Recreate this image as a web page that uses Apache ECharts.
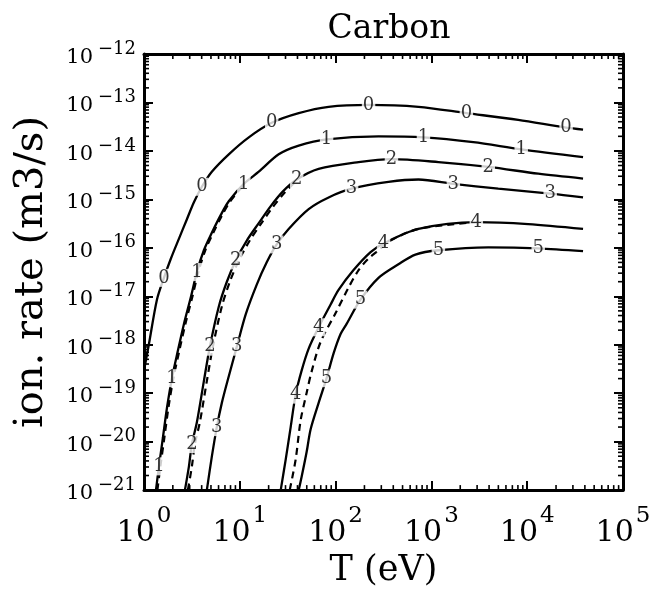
<!DOCTYPE html>
<html>
<head>
<meta charset="utf-8">
<title>Carbon ionization rates</title>
<script src="https://cdn.jsdelivr.net/npm/echarts@6/dist/echarts.min.js"></script>
<style>
  html, body { margin: 0; padding: 0; background: #fff; }
  #chart { width: 654px; height: 593px; }
</style>
</head>
<body>
<div id="chart"></div>
<script>
// Ionization rate coefficients for carbon charge states 0..5 vs electron temperature.
// Values are log10(T / eV) and log10(rate / (m3/s)).

const chargeStates = ['0', '1', '2', '3', '4', '5'];

const xDecades = [0, 1, 2, 3, 4, 5];
const yDecades = [-21, -20, -19, -18, -17, -16, -15, -14, -13, -12];

const lgT0 = [0, 0.052, 0.135, 0.208, 0.281, 0.365, 0.448, 0.521, 0.604, 0.708, 0.885, 1.094, 1.333, 1.615, 1.927, 2.344, 2.865, 3.365, 3.906, 4.406, 4.583];
const lgK0 = [-18.53, -17.98, -17.07, -16.62, -16.22, -15.81, -15.41, -15.06, -14.74, -14.43, -14.07, -13.72, -13.42, -13.22, -13.09, -13.05, -13.09, -13.22, -13.36, -13.52, -13.56];
const lab0 = [3, 8, 12, 15, 17, 19];

const lgT1 = [0.125, 0.156, 0.198, 0.24, 0.292, 0.354, 0.417, 0.49, 0.552, 0.625, 0.708, 0.802, 0.885, 1.042, 1.198, 1.406, 1.615, 1.906, 2.448, 2.917, 3.4375, 3.9375, 4.583];
const lgK1 = [-21.0, -20.51, -19.91, -19.30, -18.69, -18.12, -17.57, -17.01, -16.50, -16.05, -15.69, -15.32, -15.04, -14.68, -14.43, -14.07, -13.89, -13.76, -13.70, -13.72, -13.82, -13.97, -14.13];
const lab1 = [1, 4, 8, 13, 17, 19, 21];

const lgT2 = [0.427, 0.469, 0.5, 0.552, 0.625, 0.6875, 0.781, 0.865, 0.958, 1.073, 1.198, 1.323, 1.448, 1.594, 1.823, 2.24, 2.583, 3.073, 3.594, 4.115, 4.583];
const lgK2 = [-21.0, -20.51, -20.05, -19.60, -18.75, -18.04, -17.21, -16.70, -16.26, -15.85, -15.49, -15.14, -14.84, -14.59, -14.37, -14.23, -14.17, -14.23, -14.33, -14.47, -14.57];
const lab2 = [2, 5, 8, 13, 16, 18];

const lgT3 = [0.656, 0.708, 0.760, 0.8125, 0.885, 0.969, 1.0625, 1.177, 1.281, 1.385, 1.51, 1.719, 1.927, 2.167, 2.552, 2.865, 3.229, 3.698, 4.24, 4.583];
const lgK3 = [-21.0, -20.31, -19.70, -19.20, -18.65, -18.04, -17.37, -16.76, -16.30, -15.93, -15.61, -15.20, -14.96, -14.78, -14.64, -14.59, -14.68, -14.78, -14.88, -14.96];
const lab3 = [2, 5, 9, 13, 16, 18];

const lgT4 = [1.427, 1.479, 1.531, 1.583, 1.646, 1.719, 1.823, 1.948, 2.031, 2.1875, 2.365, 2.5, 2.865, 3.469, 4.01, 4.583];
const lgK4 = [-21.0, -20.37, -19.70, -19.03, -18.53, -18.08, -17.64, -17.17, -16.87, -16.46, -16.09, -15.91, -15.61, -15.47, -15.51, -15.61];
const lab4 = [3, 6, 11, 13];

const lgT5 = [1.615, 1.646, 1.698, 1.74, 1.823, 1.906, 1.979, 2.052, 2.115, 2.26, 2.448, 2.656, 2.833, 3.073, 3.594, 4.115, 4.583];
const lgK5 = [-21.0, -20.72, -20.21, -19.74, -19.20, -18.69, -18.18, -17.78, -17.57, -17.07, -16.62, -16.34, -16.14, -16.05, -15.99, -16.01, -16.07];
const lab5 = [5, 9, 13, 15];

// Dashed companion curves (alternative rate data) for states 1, 2 and 4
const lgT1d = [0.14, 0.171, 0.213, 0.255, 0.307, 0.369, 0.432, 0.505, 0.567, 0.64, 0.723, 0.817, 0.9, 1.05];
const lgK1d = [-21.0, -20.51, -19.91, -19.30, -18.69, -18.12, -17.57, -17.01, -16.50, -16.05, -15.69, -15.32, -15.04, -14.68];

const lgT2d = [0.458, 0.5, 0.531, 0.583, 0.656, 0.719, 0.8125, 0.896, 0.99, 1.104, 1.219, 1.344, 1.469, 1.594];
const lgK2d = [-21.0, -20.51, -20.05, -19.60, -18.75, -18.04, -17.21, -16.70, -16.26, -15.85, -15.51, -15.16, -14.86, -14.61];

const lgT4d = [1.521, 1.583, 1.635, 1.698, 1.75, 1.844, 2.01, 2.135, 2.24, 2.344, 2.448, 2.573, 2.865, 3.469];
const lgK4d = [-21.0, -20.37, -19.56, -18.99, -18.55, -17.94, -17.31, -16.82, -16.46, -16.22, -16.05, -15.85, -15.61, -15.47];

const minorFactors = [2, 3, 4, 5, 6, 7, 8, 9];

const SERIF = "'DejaVu Serif', 'Liberation Serif', serif";
const X_MIN = xDecades[0], X_MAX = xDecades[xDecades.length - 1];
const Y_MIN = yDecades[0], Y_MAX = yDecades[yDecades.length - 1];

function zip(a, b) { return a.map((v, i) => [v, b[i]]); }

const solid = [
  [lgT0, lgK0, lab0], [lgT1, lgK1, lab1], [lgT2, lgK2, lab2],
  [lgT3, lgK3, lab3], [lgT4, lgK4, lab4], [lgT5, lgK5, lab5]
];
const dashed = [[lgT1d, lgK1d], [lgT2d, lgK2d], [lgT4d, lgK4d]];

const series = [];

solid.forEach(([t, k], i) => {
  series.push({
    name: 'state ' + chargeStates[i],
    type: 'line', data: zip(t, k), smooth: 0.3, showSymbol: false,
    lineStyle: { color: '#000', width: 2.3 }, z: 3, silent: true
  });
});

dashed.forEach(([t, k]) => {
  series.push({
    type: 'line', data: zip(t, k), smooth: 0.3, showSymbol: false,
    lineStyle: { color: '#000', width: 2.2, type: [7, 5] }, z: 3, silent: true
  });
});

// Charge-state digits sitting on their curves
const labelData = [];
solid.forEach(([t, k, idx], i) => {
  idx.forEach(j => labelData.push({ value: [t[j], k[j]], name: chargeStates[i] }));
});
series.push({
  type: 'scatter', data: labelData, symbolSize: 0, z: 6, silent: true,
  label: {
    show: true, position: 'inside', formatter: p => p.name,
    fontFamily: SERIF, fontSize: 18, color: '#000',
    backgroundColor: '#fff', padding: [0, 1]
  }
});

// Logarithmic minor ticks on all four sides of the frame
const xMinor = [], yMinor = [];
for (let n = X_MIN; n < X_MAX; n++) minorFactors.forEach(f => xMinor.push([n + Math.log10(f), Y_MIN]));
for (let n = Y_MIN; n < Y_MAX; n++) minorFactors.forEach(f => yMinor.push([X_MIN, n + Math.log10(f)]));

const tickStyle = { stroke: '#000', lineWidth: 1.6 };
series.push({
  type: 'custom', data: xMinor, z: 2, silent: true,
  renderItem: (params, api) => {
    const v = api.value(0);
    const b = api.coord([v, Y_MIN]), t = api.coord([v, Y_MAX]);
    return { type: 'group', children: [
      { type: 'line', shape: { x1: b[0], y1: b[1], x2: b[0], y2: b[1] - 5 }, style: tickStyle },
      { type: 'line', shape: { x1: t[0], y1: t[1], x2: t[0], y2: t[1] + 5 }, style: tickStyle }
    ] };
  }
});
series.push({
  type: 'custom', data: yMinor, z: 2, silent: true,
  renderItem: (params, api) => {
    const v = api.value(1);
    const l = api.coord([X_MIN, v]), r = api.coord([X_MAX, v]);
    return { type: 'group', children: [
      { type: 'line', shape: { x1: l[0], y1: l[1], x2: l[0] + 5, y2: l[1] }, style: tickStyle },
      { type: 'line', shape: { x1: r[0], y1: r[1], x2: r[0] - 5, y2: r[1] }, style: tickStyle }
    ] };
  }
});

const frameLine = { show: true, onZero: false, lineStyle: { color: '#000', width: 3 } };
const majorTick = { show: true, inside: true, length: 9, lineStyle: { color: '#000', width: 2 } };

function powLabel(v) {
  const e = Math.round(v);
  return '{b|10}{s|' + (e < 0 ? '\u2212' + (-e) : e) + '}';
}

const option = {
  animation: false,
  backgroundColor: '#fff',
  title: {
    text: 'Carbon', left: 384, top: 8, textAlign: 'center',
    textStyle: { fontFamily: SERIF, fontSize: 33, fontWeight: 'normal', color: '#000' }
  },
  grid: { left: 144, right: 31, top: 54, bottom: 100 },
  xAxis: [{
    type: 'value', min: X_MIN, max: X_MAX, interval: 1, position: 'bottom',
    axisLine: frameLine, axisTick: majorTick, splitLine: { show: false },
    name: 'T (eV)', nameLocation: 'middle', nameGap: 57,
    nameTextStyle: { fontFamily: SERIF, fontSize: 35, color: '#000' },
    axisLabel: {
      margin: 14, color: '#000', formatter: powLabel,
      rich: {
        b: { fontFamily: SERIF, fontSize: 30, lineHeight: 44, verticalAlign: 'bottom', color: '#000' },
        s: { fontFamily: SERIF, fontSize: 23, lineHeight: 22, verticalAlign: 'top', color: '#000', padding: [0, 0, 0, 2] }
      }
    }
  }, {
    type: 'value', min: X_MIN, max: X_MAX, interval: 1, position: 'top',
    axisLine: frameLine, axisTick: majorTick, splitLine: { show: false },
    axisLabel: { show: false }
  }],
  yAxis: [{
    type: 'value', min: Y_MIN, max: Y_MAX, interval: 1, position: 'left',
    axisLine: frameLine, axisTick: majorTick, splitLine: { show: false },
    name: 'ion. rate (m3/s)', nameLocation: 'middle', nameGap: 92,
    nameTextStyle: { fontFamily: SERIF, fontSize: 40, color: '#000' },
    axisLabel: {
      margin: 8, color: '#000', formatter: powLabel,
      rich: {
        b: { fontFamily: SERIF, fontSize: 21, lineHeight: 28, verticalAlign: 'bottom', color: '#000' },
        s: { fontFamily: SERIF, fontSize: 18, lineHeight: 12, verticalAlign: 'top', color: '#000', padding: [0, 0, 0, 5] }
      }
    }
  }, {
    type: 'value', min: Y_MIN, max: Y_MAX, interval: 1, position: 'right',
    axisLine: frameLine, axisTick: majorTick, splitLine: { show: false },
    axisLabel: { show: false }
  }],
  series: series
};

const chart = echarts.init(document.getElementById('chart'), null, { renderer: 'canvas' });
chart.setOption(option);
</script>
</body>
</html>
